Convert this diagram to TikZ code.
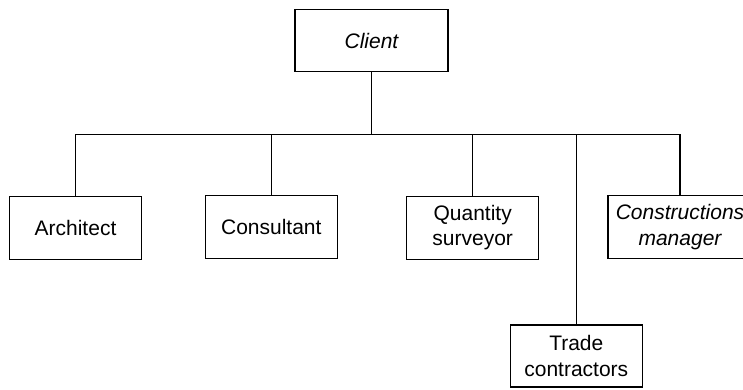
\documentclass[tikz,border=0pt]{standalone}
\usepackage{fontspec}
\setmainfont{Liberation Sans}
\begin{document}
\begin{tikzpicture}[x=1pt,y=-1pt,
  line width=1.2pt,
  orgbox/.style={draw, align=center, inner sep=0pt,
    minimum width=132pt, minimum height=63pt,
    font=\fontsize{21}{25.5}\selectfont}]
\useasboundingbox (0,0) rectangle (743,389);
\clip (0,0) rectangle (743,389);
% boxes
\node[orgbox, minimum width=153pt, minimum height=62.5pt] (client) at (371.5,40.5) {\itshape Client};
\node[orgbox] (arch) at (75.5,228) {Architect};
\node[orgbox] (cons) at (271.3,227) {Consultant};
\node[orgbox] (qs) at (472.7,227.8) {Quantity\\surveyor};
\node[orgbox, minimum height=62pt] (trade) at (576.3,356) {Trade\\contractors};
\node[orgbox, minimum width=144pt] (cm) at (680,227.2) {\itshape Constructions\\\itshape manager};
% bus line joining the client to everyone below
\coordinate (bus) at (372.7,134.5);
\draw (client.south) -- (client.south |- bus);
\draw (arch.north) |- (bus -| cm.north) -- (cm.north);
\draw (cons.north) -- (cons.north |- bus);
\draw (qs.north) -- (qs.north |- bus);
\draw (trade.north) -- (trade.north |- bus);
\end{tikzpicture}
\end{document}
